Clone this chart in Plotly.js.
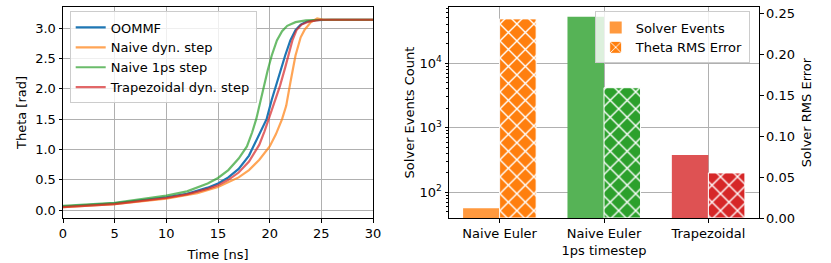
<!DOCTYPE html>
<html>
<head>
<meta charset="utf-8">
<script src="https://cdn.plot.ly/plotly-3.0.1.min.js"></script>
<style>html,body{margin:0;padding:0;background:#fff;}#chart{width:831px;height:263px;}</style>
</head>
<body>
<div id="chart"></div>
<script>
// ---- Left panel: Theta vs time ----
const tOommf = [0, 5, 10, 12, 14, 15, 16, 17, 18, 19, 19.7, 20.2, 20.6, 21.0, 21.5, 22.0, 22.5, 23.0, 23.6, 24.5, 26, 30];
const thOommf = [0.06, 0.11, 0.21, 0.27, 0.37, 0.44, 0.54, 0.68, 0.90, 1.25, 1.50, 1.82, 2.05, 2.30, 2.55, 2.80, 2.97, 3.06, 3.11, 3.135, 3.14, 3.14];

const tNaiveDyn = [0, 5, 10, 13, 15, 17, 18, 19, 20, 20.6, 21.2, 21.6, 22.0, 22.5, 23.0, 23.4, 24.0, 24.6, 25.2, 30];
const thNaiveDyn = [0.05, 0.10, 0.19, 0.28, 0.38, 0.54, 0.66, 0.83, 1.05, 1.25, 1.50, 1.72, 2.10, 2.55, 2.85, 2.98, 3.10, 3.16, 3.14, 3.14];

const tNaive1ps = [0, 5, 10, 12, 14, 15, 16, 17, 17.8, 18.3, 18.7, 19.1, 19.4, 19.8, 20.2, 20.7, 21.2, 21.7, 22.5, 23.5, 25, 30];
const thNaive1ps = [0.07, 0.12, 0.24, 0.31, 0.44, 0.53, 0.66, 0.85, 1.05, 1.28, 1.50, 1.80, 2.00, 2.30, 2.55, 2.80, 2.95, 3.04, 3.10, 3.13, 3.14, 3.14];

const tTrap = [0, 5, 10, 12, 14, 15, 16, 17, 18, 19, 19.5, 20, 20.5, 21, 21.5, 21.8, 22.2, 22.6, 23.1, 23.8, 25, 30];
const thTrap = [0.05, 0.10, 0.20, 0.26, 0.35, 0.41, 0.50, 0.62, 0.80, 1.08, 1.30, 1.55, 1.80, 2.05, 2.35, 2.55, 2.80, 2.97, 3.06, 3.11, 3.14, 3.14];

const lineNames = ['OOMMF', 'Naive dyn. step', 'Naive 1ps step', 'Trapezoidal dyn. step'];

// ---- Right panel: solver comparison ----
const methods = ['Naive Euler', 'Naive Euler<br>1ps timestep', 'Trapezoidal'];
const methodPos = [0, 1, 2];
const solverEvents = [57, 52000, 377];
const thetaRmsError = [0.243, 0.159, 0.055];
const logTickVals = [100, 1000, 10000];
const logTickText = ['10<sup>2</sup>', '10<sup>3</sup>', '10<sup>4</sup>'];

const FONT = 'DejaVu Sans, sans-serif';
const FS = 13;

const solidColors = ['#ff993e', '#56b356', '#de5253'];
const hatchColors = ['#ff7f0e', '#2ca02c', '#d62728'];

function lineTrace(x, y, name, color, opacity) {
  return {type: 'scatter', mode: 'lines', x: x, y: y, name: name, xaxis: 'x', yaxis: 'y',
    line: {color: color, width: 2.2}, opacity: opacity, legend: 'legend'};
}

const traces = [
  lineTrace(tOommf, thOommf, lineNames[0], '#1f77b4', 1),
  lineTrace(tNaiveDyn, thNaiveDyn, lineNames[1], '#ff7f0e', 0.7),
  lineTrace(tNaive1ps, thNaive1ps, lineNames[2], '#2ca02c', 0.7),
  lineTrace(tTrap, thTrap, lineNames[3], '#d62728', 0.7),
  {type: 'bar', x: methodPos, y: solverEvents, name: 'Solver Events', xaxis: 'x2', yaxis: 'y2',
    width: 0.35, offset: -0.35, legend: 'legend2',
    marker: {color: solidColors, line: {width: 0}}}
];

// hatched error bars: one trace per method so each gets its own solid pattern background
methodPos.forEach((pos, i) => {
  traces.push({type: 'bar', x: [pos], y: [thetaRmsError[i]], name: 'Theta RMS Error',
    xaxis: 'x2', yaxis: 'y3', width: 0.35, offset: 0, legend: 'legend2',
    legendgroup: 'err', showlegend: i === 0,
    marker: {color: hatchColors[i], line: {color: '#ffffff', width: 1},
      pattern: {shape: 'x', fillmode: 'replace', bgcolor: hatchColors[i], fgcolor: '#ffffff',
        size: 12, solidity: 0.22}}});
});

const W = 831, H = 263;
const L = 63.3, R = W - 759.3, T = 6.5, B = H - 218;
const PW = W - L - R;
const px = v => (v - L) / PW;
const py = v => (H - B - v) / (H - B - T);

const axBase = {
  ticks: 'outside', ticklen: 3.5, tickwidth: 1, tickcolor: '#000',
  showline: true, linecolor: '#000', linewidth: 1,
  gridcolor: '#b0b0b0', gridwidth: 1, zeroline: false,
  tickfont: {family: FONT, size: FS, color: '#000'},
  automargin: false
};

const layout = {
  width: W, height: H,
  margin: {l: L, r: R, t: T, b: B},
  paper_bgcolor: '#fff', plot_bgcolor: '#fff',
  font: {family: FONT, size: FS, color: '#000'},
  showlegend: true,
  barmode: 'overlay',
  xaxis: Object.assign({}, axBase, {domain: [0, px(373.3)], range: [0, 30], dtick: 5, tick0: 0,
    mirror: true, showgrid: true, anchor: 'y',
    title: {text: 'Time [ns]', font: {family: FONT, size: FS}, standoff: 9}}),
  yaxis: Object.assign({}, axBase, {domain: [0, 1], range: [-0.13, 3.35], dtick: 0.5, tick0: 0,
    tickformat: '.1f', mirror: true, showgrid: true, anchor: 'x',
    title: {text: 'Theta [rad]', font: {family: FONT, size: FS}, standoff: 5}}),
  xaxis2: Object.assign({}, axBase, {domain: [px(449.3), 1], range: [-0.485, 2.485],
    tickvals: methodPos, ticktext: methods, mirror: true, showgrid: true, anchor: 'y2'}),
  yaxis2: Object.assign({}, axBase, {domain: [0, 1], type: 'log', range: [Math.log10(40.1), 4.867],
    tickvals: logTickVals, ticktext: logTickText, showgrid: true, anchor: 'x2',
    minor: {ticks: 'outside', ticklen: 2, tickcolor: '#000', dtick: 'D1', showgrid: false},
    title: {text: 'Solver Events Count', font: {family: FONT, size: FS}, standoff: 2}}),
  yaxis3: Object.assign({}, axBase, {domain: [0, 1], range: [0, 0.2575], dtick: 0.05, tick0: 0,
    tickformat: '.2f', overlaying: 'y2', side: 'right', anchor: 'x2', showgrid: false,
    title: {text: 'Solver RMS Error', font: {family: FONT, size: FS}, standoff: 7}}),
  legend: {x: px(70), y: py(11), xanchor: 'left', yanchor: 'top',
    bgcolor: 'rgba(255,255,255,0.8)', bordercolor: '#cccccc', borderwidth: 1,
    font: {family: FONT, size: FS, color: '#000'}, tracegroupgap: 0},
  legend2: {x: px(595), y: py(11), xanchor: 'left', yanchor: 'top',
    bgcolor: 'rgba(255,255,255,0.8)', bordercolor: '#cccccc', borderwidth: 1,
    font: {family: FONT, size: FS, color: '#000'}, tracegroupgap: 0}
};

Plotly.newPlot('chart', traces, layout, {staticPlot: true, displayModeBar: false});
</script>
</body>
</html>
